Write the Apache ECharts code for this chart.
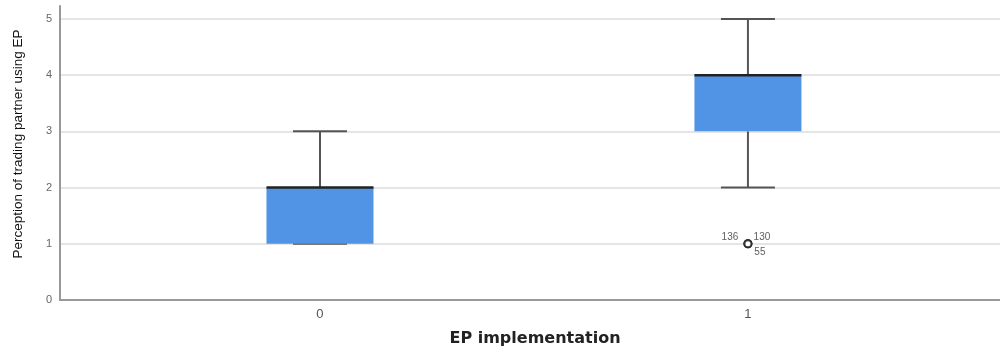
<!DOCTYPE html>
<html><head><meta charset="utf-8">
<script src="https://cdn.jsdelivr.net/npm/echarts@6/dist/echarts.min.js"></script>
<style>html,body{margin:0;padding:0;background:#fff}#c{width:1000px;height:348px}</style>
</head><body><div id="c"></div>
<script>
const categories = ['0', '1'];
const categoryPositions = [0, 1];
// [min, Q1, median, Q3, max]
const boxStats = [
  [1, 1, 2, 2, 3],
  [2, 3, 4, 4, 5]
];
const outlierPositions = [1, 1, 1];
const outlierValues = [1, 1, 1];
const outlierLabels = ['136', '130', '55'];
const yTicks = [0, 1, 2, 3, 4, 5];

const boxData = boxStats.map((s, i) => [categoryPositions[i]].concat(s));
const labelOffsets = [[-18, -7], [14, -7], [12, 8]];
const outlierData = outlierValues.map((v, i) => ({
  value: [outlierPositions[i], v],
  label: { show: true, formatter: outlierLabels[i], position: 'inside', offset: labelOffsets[i] }
}));

const chart = echarts.init(document.getElementById('c'), null, { renderer: 'canvas' });
chart.setOption({
  animation: false,
  grid: { left: 60, right: 0, top: 6, bottom: 48, containLabel: false, outerBoundsMode: 'none' },
  xAxis: {
    type: 'value', min: -0.6075, max: 1.589,
    name: 'EP implementation', nameLocation: 'middle', nameGap: 31,
    nameTextStyle: { fontFamily: 'DejaVu Sans', fontWeight: 'bold', fontSize: 16, color: '#222', padding: [0, 0, 0, 10] },
    axisLine: { show: true, onZero: false, lineStyle: { color: '#999', width: 2 } },
    axisTick: { show: false },
    splitLine: { show: false },
    axisLabel: {
      customValues: categoryPositions,
      formatter: v => categories[Math.round(v)],
      color: '#555', fontSize: 13, fontFamily: 'Liberation Sans', margin: 8
    }
  },
  yAxis: {
    type: 'value', min: 0, max: 5.23, interval: 1,
    name: 'Perception of trading partner using EP', nameLocation: 'middle', nameGap: 35,
    nameTextStyle: { fontFamily: 'Liberation Sans', fontSize: 13.5, color: '#111', padding: [0, 0, 0, 18] },
    axisLine: { show: true, onZero: false, lineStyle: { color: '#999', width: 2 } },
    axisTick: { show: false },
    axisLabel: { color: '#666', fontSize: 11, fontFamily: 'Liberation Sans', margin: 8,
      customValues: yTicks },
    splitLine: { show: true, showMaxLine: false, showMinLine: false, lineStyle: { color: '#ddd', width: 1.5 } }
  },
  series: [
    {
      type: 'custom',
      data: boxData,
      renderItem: function (params, api) {
        const x = api.value(0);
        const mn = api.coord([x, api.value(1)]);
        const q1 = api.coord([x, api.value(2)]);
        const md = api.coord([x, api.value(3)]);
        const q3 = api.coord([x, api.value(4)]);
        const mx = api.coord([x, api.value(5)]);
        const cx = mn[0];
        const hw = 53.5, cw = 27;
        const whisker = { stroke: '#555', lineWidth: 2 };
        return {
          type: 'group',
          children: [
            { type: 'line', shape: { x1: cx, y1: q3[1], x2: cx, y2: mx[1] }, style: whisker },
            { type: 'line', shape: { x1: cx, y1: q1[1], x2: cx, y2: mn[1] }, style: whisker },
            { type: 'line', shape: { x1: cx - cw, y1: mx[1], x2: cx + cw, y2: mx[1] }, style: whisker },
            { type: 'line', shape: { x1: cx - cw, y1: mn[1], x2: cx + cw, y2: mn[1] }, style: whisker },
            { type: 'rect', shape: { x: cx - hw, y: q3[1], width: hw * 2, height: q1[1] - q3[1] },
              style: { fill: '#5193e4', stroke: null } },
            { type: 'line', shape: { x1: cx - hw, y1: md[1], x2: cx + hw, y2: md[1] },
              style: { stroke: '#222', lineWidth: 2.5 } }
          ]
        };
      }
    },
    {
      type: 'scatter',
      data: outlierData,
      symbol: 'circle', symbolSize: 7,
      itemStyle: { color: '#fff', borderColor: '#222', borderWidth: 2 },
      label: { color: '#333', fontSize: 10, fontFamily: 'Liberation Sans' },
      z: 5
    }
  ]
});
</script></body></html>
